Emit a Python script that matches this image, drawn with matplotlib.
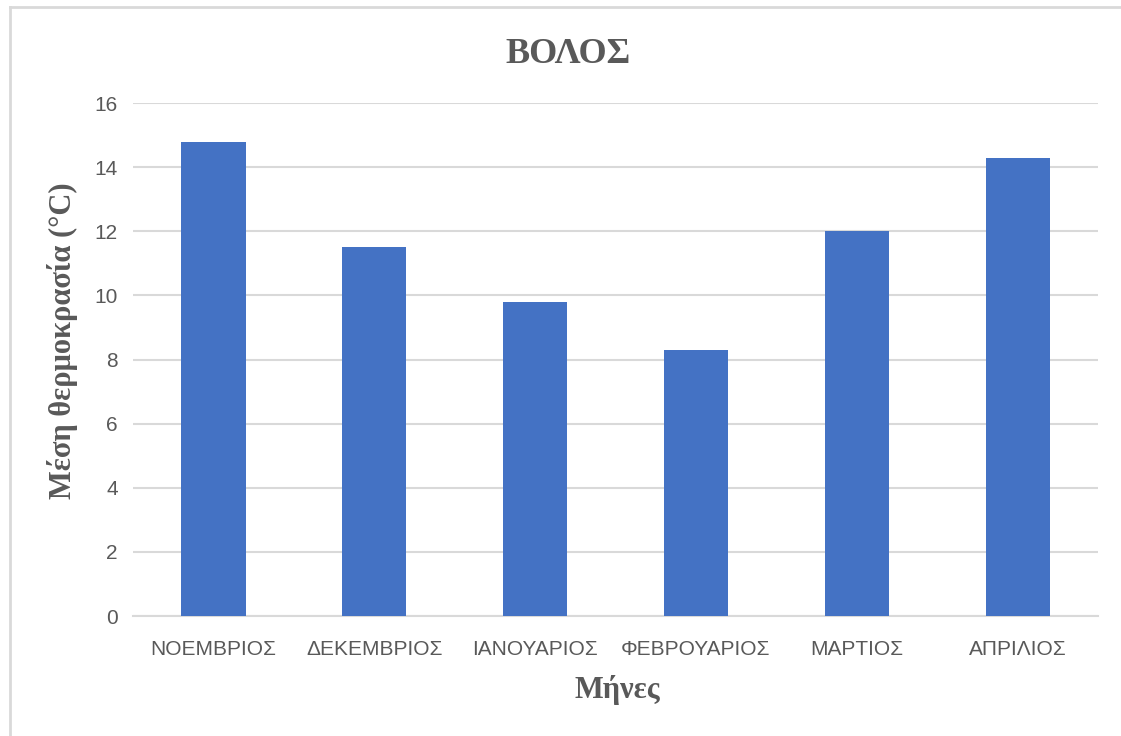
import matplotlib
matplotlib.use("Agg")
import matplotlib.pyplot as plt
from matplotlib.lines import Line2D

# average monthly temperature, Volos
months = ["ΝΟΕΜΒΡΙΟΣ", "ΔΕΚΕΜΒΡΙΟΣ", "ΙΑΝΟΥΑΡΙΟΣ", "ΦΕΒΡΟΥΑΡΙΟΣ", "ΜΑΡΤΙΟΣ", "ΑΠΡΙΛΙΟΣ"]
temps = [14.8, 11.5, 9.8, 8.3, 12.0, 14.3]
yticks = [0, 2, 4, 6, 8, 10, 12, 14, 16]

title = "ΒΟΛΟΣ"
xlabel = "Μήνες"
ylabel = "Μέση θερμοκρασία (°C)"

bar_color = "#4472C4"
grid_color = "#D9D9D9"
text_gray = "#595959"
tick_font = ["Liberation Sans Narrow", "Liberation Sans", "DejaVu Sans"]
label_font = ["Liberation Serif", "DejaVu Serif"]

fig = plt.figure(figsize=(11.21, 7.36), dpi=100)
fig.patch.set_facecolor("white")
ax = fig.add_axes([0.1186, 0.163, 0.861, 0.697])

x = list(range(len(months)))
ax.bar(x, temps, width=0.4, color=bar_color, zorder=3)

ax.set_xlim(-0.5, len(months) - 0.5)
ax.set_ylim(0, 16)
ax.set_yticks(yticks)
ax.set_xticks(x)
ax.set_xticklabels(months)
ax.yaxis.grid(True, color=grid_color, linewidth=1.5, zorder=0)
ax.set_axisbelow(True)

for s in ["left", "right", "top"]:
    ax.spines[s].set_visible(False)
ax.spines["bottom"].set_color(grid_color)
ax.spines["bottom"].set_linewidth(1.5)

ax.tick_params(axis="both", length=0, labelcolor=text_gray, labelsize=15)
ax.tick_params(axis="y", pad=11)
ax.tick_params(axis="x", pad=17)
for lbl in ax.get_xticklabels() + ax.get_yticklabels():
    lbl.set_family(tick_font)

fig.text(0.507, 0.926, title, ha="center", va="center", fontsize=26,
         fontweight="bold", color=text_gray, family=label_font)
fig.text(0.551, 0.063, xlabel, ha="center", va="center", fontsize=22,
         fontweight="bold", color=text_gray, family=label_font)
fig.text(0.056, 0.537, ylabel, ha="center", va="center", rotation=90,
         fontsize=22, fontweight="bold", color=text_gray, family=label_font)

# chart frame edges
fig.add_artist(Line2D([0.0085, 0.0085], [0.0, 0.99], transform=fig.transFigure,
                      color=grid_color, linewidth=2))
fig.add_artist(Line2D([0.0085, 1.0], [0.99, 0.99], transform=fig.transFigure,
                      color=grid_color, linewidth=2))

fig.savefig("out.png", dpi=100, facecolor="white")
